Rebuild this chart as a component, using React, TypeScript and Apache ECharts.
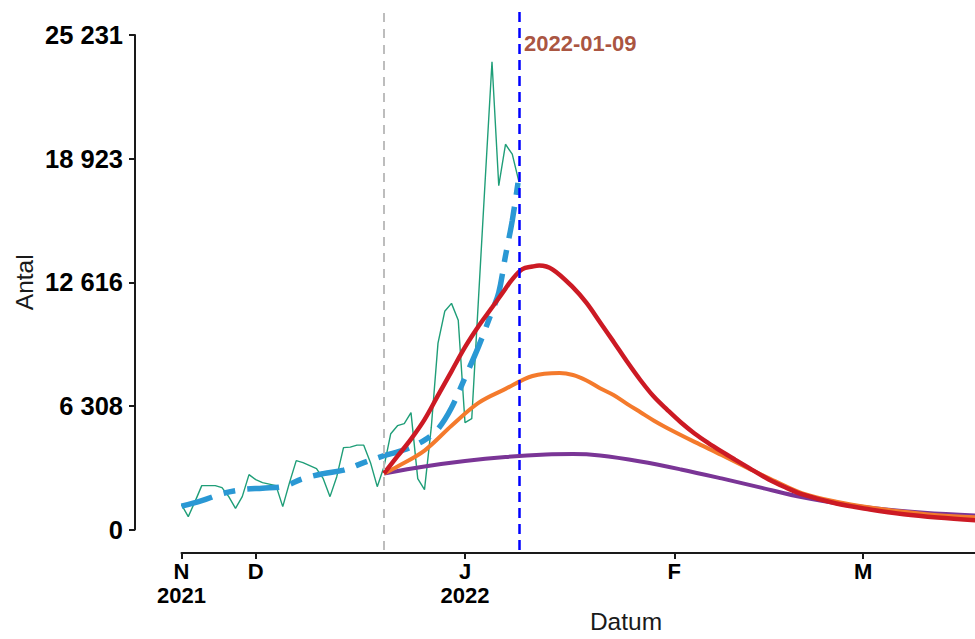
import React, { useEffect, useRef } from 'react';
import * as echarts from 'echarts';

// Days are counted from 2022-01-01 (day 0).
const observedStartDay = -42; // 2021-11-20
const observed = [
  1128, 513, 1282, 2103, 2103, 2103, 2000, 1538, 938, 1538,
  2667, 2410, 2256, 2180, 2103, 1026, 2256, 3385, 3282, 3128,
  2974, 2462, 1538, 2564, 4051, 4077, 4180, 4180, 3282, 2051,
  3077, 4769, 5179, 5282, 5846, 2462, 1897, 5076, 9413, 11046,
  11454, 10587, 5332, 5536, 11696, 17832, 23852, 17490, 19617, 19107, 17679,
];

const trendDays = [-42, -39, -36, -33, -30, -27, -24, -21, -18, -15, -12, -9, -6, -4, -2, 0, 2, 4, 5, 6, 7, 8];
const trendValues = [1051, 1333, 1692, 1897, 1974, 2051, 2462, 2718, 2897, 3282, 3641, 3944, 4439, 5010, 6097, 7650, 9235, 11046, 12000, 13900, 15700, 18000];

const highDays = [-12, -10, -8, -6, -4, -2, 0, 2, 4, 5.5, 7, 8.5, 10, 11, 13, 16, 18, 20, 22, 24, 26, 28, 30, 32, 34, 36, 38, 40, 42, 45, 47.5, 50, 55, 60, 65, 70, 77];
const highValues = [2730, 3612, 4490, 5490, 6730, 7970, 9209, 10281, 11240, 11965, 12684, 13214, 13342, 13393, 13189, 12270, 11474, 10485, 9490, 8469, 7510, 6658, 5980, 5340, 4780, 4300, 3860, 3440, 3030, 2420, 2010, 1650, 1184, 883, 638, 469, 290];

const midDays = [-12, -10, -6, -2, 2, 6, 10, 14, 16, 18, 20, 22, 24, 26, 28, 30, 34, 38, 42, 46, 50, 55, 60, 65, 70, 77];
const midValues = [2730, 3087, 3903, 5179, 6352, 7066, 7730, 7883, 7781, 7500, 7100, 6750, 6301, 5867, 5434, 5051, 4350, 3680, 2990, 2321, 1709, 1276, 980, 760, 587, 460];

const lowDays = [-12, -6, 0, 6, 12, 16, 20, 26, 32, 38, 44, 50, 56, 62, 68, 77];
const lowValues = [2730, 3087, 3367, 3571, 3699, 3724, 3648, 3342, 2934, 2474, 1990, 1505, 1148, 893, 714, 550];

const forecastStartDay = -12; // 2021-12-20
const markDay = 8; // 2022-01-09
const markLabel = '2022-01-09';
const markLabelValue = 24770;

const xTickDays = [-42, -31, 0, 31, 59];
const xTickLabels = ['N\n2021', 'D', 'J\n2022', 'F', 'M'];
const yMax = 25231;
const ySteps = 4;

const W = 1117;
const H = 639;

const pairs = (xs: number[], ys: number[]) => xs.map((x, i) => [x, ys[i]]);

const fmtThousands = (v: number) =>
  String(Math.round(v)).replace(/\B(?=(\d{3})+(?!\d))/g, ' ');

export default function App() {
  const ref = useRef<HTMLDivElement>(null);

  useEffect(() => {
    if (!ref.current) return;
    const chart = echarts.init(ref.current, undefined, { renderer: 'svg' });

    // layout (pixels)
    const plotLeft = 135;
    const axisStartX = 181.5;
    const dataTop = 6;
    const xAxisY = 553;
    const yTopPx = 35;
    const yZeroPx = 529.5;
    const pxPerDay = 6.75;
    const unitsPerPx = yMax / (yZeroPx - yTopPx);

    const x0Min = xTickDays[0] - (axisStartX - plotLeft) / pxPerDay;
    const x0Max = x0Min + (W - plotLeft) / pxPerDay;
    const y0Min = -(xAxisY - yZeroPx) * unitsPerPx;
    const y0Max = yMax + (yTopPx - dataTop) * unitsPerPx;

    const observedData = observed.map((v, i) => [observedStartDay + i, v]);

    const axisLineStyle = { color: '#1a1a1a', width: 2 };
    const font = 'Liberation Sans, Arial, sans-serif';
    const curve = { showSymbol: false, symbol: 'none', smooth: 0.35 };

    chart.setOption({
      animation: false,
      backgroundColor: '#ffffff',
      grid: [
        { left: plotLeft, right: 0, top: dataTop, bottom: H - xAxisY },
        { left: plotLeft, width: 10, top: yTopPx, bottom: H - yZeroPx },
        { left: axisStartX, right: 0, top: xAxisY - 1, bottom: H - xAxisY },
      ],
      xAxis: [
        {
          gridIndex: 0, type: 'value', min: x0Min, max: x0Max,
          axisLine: { show: false }, axisTick: { show: false }, axisLabel: { show: false }, splitLine: { show: false },
          name: 'Datum', nameLocation: 'middle', nameGap: 59,
          nameTextStyle: { fontFamily: font, fontSize: 24.5, color: '#1a1a1a' },
        },
        { gridIndex: 1, type: 'value', show: false, min: 0, max: 1 },
        {
          gridIndex: 2, type: 'value', min: xTickDays[0], max: x0Max, position: 'bottom',
          axisLine: { show: true, onZero: false, lineStyle: axisLineStyle },
          axisTick: { show: true, length: 6, lineStyle: axisLineStyle, customValues: xTickDays },
          axisLabel: {
            show: true, customValues: xTickDays, margin: 6,
            fontFamily: font, fontSize: 22, fontWeight: 'bold', color: '#000', lineHeight: 24,
            formatter: (v: number) => {
              const i = xTickDays.indexOf(Math.round(v));
              return i >= 0 ? xTickLabels[i] : '';
            },
          },
          splitLine: { show: false },
        },
      ],
      yAxis: [
        { gridIndex: 0, type: 'value', min: y0Min, max: y0Max, show: false },
        {
          gridIndex: 1, type: 'value', min: 0, max: yMax, interval: yMax / ySteps, position: 'left',
          axisLine: { show: true, onZero: false, lineStyle: axisLineStyle },
          axisTick: { show: true, length: 6, lineStyle: axisLineStyle },
          axisLabel: {
            margin: 12, fontFamily: font, fontSize: 25.5, fontWeight: 'bold', color: '#000',
            formatter: (v: number) => fmtThousands(v),
          },
          splitLine: { show: false },
          name: 'Antal', nameLocation: 'middle', nameGap: 98, nameRotate: 90,
          nameTextStyle: { fontFamily: font, fontSize: 24.5, color: '#1a1a1a' },
        },
        { gridIndex: 2, type: 'value', show: false, min: 0, max: 1 },
      ],
      series: [
        {
          type: 'line', xAxisIndex: 0, yAxisIndex: 0, data: observedData,
          showSymbol: false, symbol: 'none',
          lineStyle: { color: '#1f9e78', width: 1.4 },
        },
        {
          type: 'line', xAxisIndex: 0, yAxisIndex: 0, data: pairs(trendDays, trendValues),
          ...curve,
          lineStyle: { color: '#2a98d4', width: 5.5, type: [32, 12, 12, 12], cap: 'butt' },
        },
        {
          type: 'line', xAxisIndex: 0, yAxisIndex: 0, data: pairs(lowDays, lowValues),
          ...curve,
          lineStyle: { color: '#7a3596', width: 4 },
        },
        {
          type: 'line', xAxisIndex: 0, yAxisIndex: 0, data: pairs(midDays, midValues),
          ...curve,
          lineStyle: { color: '#f47a2c', width: 4 },
        },
        {
          type: 'line', xAxisIndex: 0, yAxisIndex: 0, data: pairs(highDays, highValues),
          ...curve,
          lineStyle: { color: '#cc1a24', width: 4.5 },
        },
        {
          type: 'scatter', xAxisIndex: 0, yAxisIndex: 0,
          data: [[markDay, markLabelValue]], symbolSize: 0, silent: true,
          label: {
            show: true, position: 'right', distance: 5, formatter: markLabel,
            fontFamily: font, fontSize: 22, fontWeight: 'bold', color: '#93270c',
          },
          markLine: {
            silent: true, symbol: 'none', label: { show: false },
            data: [
              { xAxis: forecastStartDay, lineStyle: { color: '#bdbdbd', width: 2, type: [9, 7] } },
              { xAxis: markDay, lineStyle: { color: '#0000ff', width: 2.5, type: [10, 6] } },
            ],
          },
        },
      ],
    });

    return () => chart.dispose();
  }, []);

  return (
    <div style={{ position: 'fixed', left: 0, top: 0, width: 975, height: H, overflow: 'hidden', background: '#fff' }}>
      <div ref={ref} style={{ width: W, height: H }} />
    </div>
  );
}
